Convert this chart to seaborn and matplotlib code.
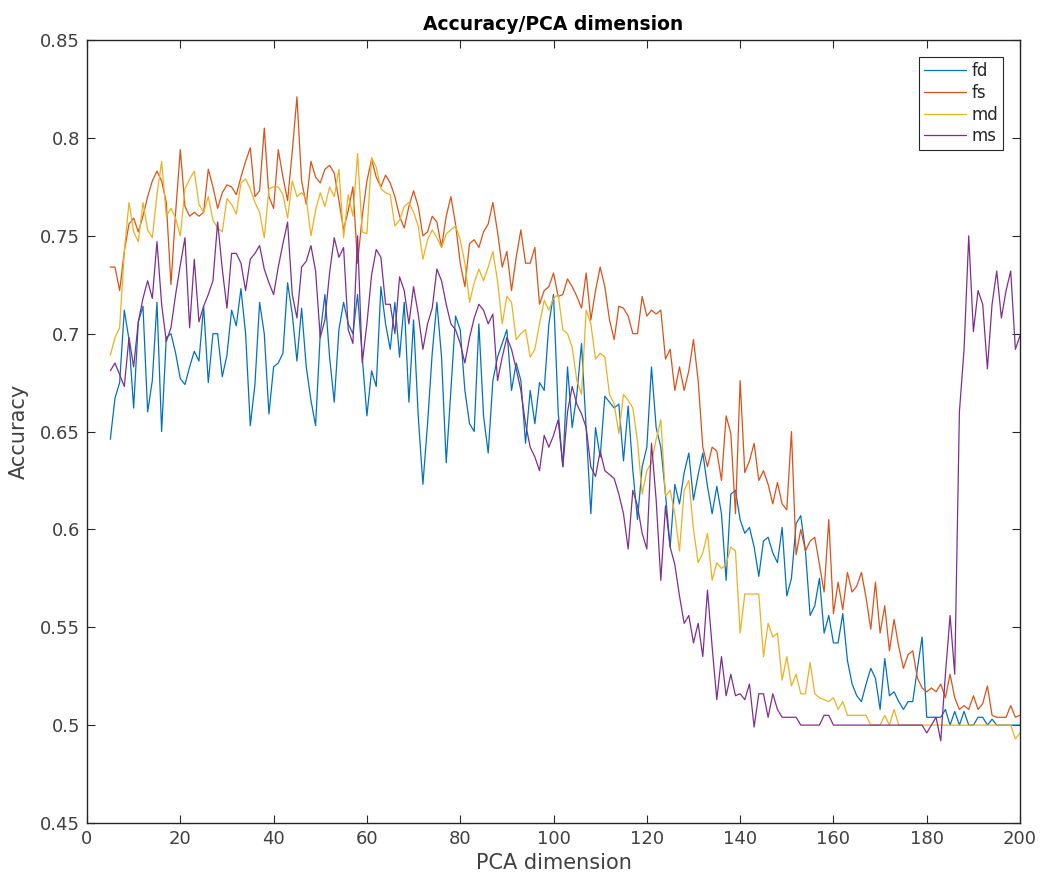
import numpy as np
import pandas as pd
import seaborn as sns
import matplotlib
matplotlib.use("Agg")
import matplotlib.pyplot as plt
from matplotlib.ticker import FuncFormatter

# ---------------------------------------------------------------------------
# data (one value per PCA dimension 5..200)
# ---------------------------------------------------------------------------
pca_dim = np.arange(5, 201)

fd = [
    0.646, 0.667, 0.675, 0.712, 0.697, 0.662, 0.706, 0.714, 0.660, 0.676,
    0.716, 0.650, 0.698, 0.700, 0.690, 0.677, 0.674, 0.683, 0.691, 0.686,
    0.714, 0.675, 0.700, 0.700, 0.678, 0.689, 0.712, 0.704, 0.723, 0.700,
    0.653, 0.674, 0.716, 0.700, 0.659, 0.683, 0.685, 0.690, 0.726, 0.710,
    0.686, 0.713, 0.683, 0.666, 0.653, 0.700, 0.720, 0.688, 0.665, 0.702,
    0.716, 0.705, 0.700, 0.720, 0.688, 0.658, 0.681, 0.673, 0.724, 0.705,
    0.692, 0.716, 0.688, 0.716, 0.665, 0.707, 0.658, 0.623, 0.654, 0.690,
    0.716, 0.688, 0.634, 0.671, 0.709, 0.702, 0.671, 0.654, 0.650, 0.705,
    0.658, 0.639, 0.676, 0.688, 0.695, 0.702, 0.671, 0.685, 0.676, 0.644,
    0.671, 0.654, 0.675, 0.671, 0.705, 0.720, 0.660, 0.632, 0.683, 0.652,
    0.669, 0.695, 0.652, 0.608, 0.652, 0.637, 0.668, 0.665, 0.662, 0.664,
    0.635, 0.663, 0.630, 0.605, 0.632, 0.642, 0.683, 0.652, 0.642, 0.618,
    0.591, 0.623, 0.613, 0.629, 0.639, 0.615, 0.628, 0.639, 0.622, 0.608,
    0.622, 0.608, 0.574, 0.618, 0.620, 0.605, 0.598, 0.601, 0.591, 0.576,
    0.594, 0.596, 0.588, 0.583, 0.601, 0.566, 0.575, 0.603, 0.607, 0.589,
    0.556, 0.561, 0.575, 0.547, 0.556, 0.542, 0.542, 0.557, 0.533, 0.521,
    0.515, 0.512, 0.521, 0.529, 0.524, 0.508, 0.534, 0.515, 0.517, 0.512,
    0.508, 0.512, 0.512, 0.529, 0.545, 0.504, 0.504, 0.504, 0.504, 0.508,
    0.500, 0.507, 0.500, 0.507, 0.500, 0.500, 0.504, 0.504, 0.500, 0.503,
    0.500, 0.500, 0.500, 0.500, 0.500, 0.500,
]

fs = [
    0.734, 0.734, 0.722, 0.742, 0.756, 0.759, 0.752, 0.760, 0.770, 0.778,
    0.783, 0.778, 0.767, 0.725, 0.762, 0.794, 0.765, 0.760, 0.762, 0.760,
    0.762, 0.784, 0.775, 0.764, 0.772, 0.776, 0.775, 0.771, 0.780, 0.788,
    0.795, 0.770, 0.773, 0.805, 0.770, 0.764, 0.794, 0.780, 0.768, 0.793,
    0.821, 0.778, 0.766, 0.788, 0.780, 0.777, 0.784, 0.786, 0.782, 0.768,
    0.753, 0.763, 0.775, 0.736, 0.760, 0.778, 0.789, 0.780, 0.775, 0.781,
    0.777, 0.770, 0.760, 0.754, 0.765, 0.773, 0.765, 0.750, 0.752, 0.760,
    0.757, 0.744, 0.760, 0.770, 0.756, 0.736, 0.724, 0.746, 0.748, 0.744,
    0.752, 0.756, 0.767, 0.752, 0.734, 0.742, 0.722, 0.739, 0.753, 0.736,
    0.736, 0.744, 0.715, 0.722, 0.724, 0.731, 0.719, 0.720, 0.728, 0.724,
    0.719, 0.713, 0.731, 0.707, 0.722, 0.734, 0.724, 0.707, 0.697, 0.714,
    0.713, 0.709, 0.700, 0.700, 0.719, 0.709, 0.712, 0.710, 0.712, 0.687,
    0.692, 0.671, 0.683, 0.671, 0.681, 0.697, 0.676, 0.642, 0.632, 0.642,
    0.640, 0.625, 0.658, 0.649, 0.608, 0.676, 0.629, 0.635, 0.644, 0.625,
    0.630, 0.623, 0.613, 0.624, 0.613, 0.610, 0.650, 0.587, 0.600, 0.589,
    0.594, 0.596, 0.582, 0.568, 0.605, 0.557, 0.573, 0.559, 0.578, 0.568,
    0.571, 0.578, 0.565, 0.549, 0.573, 0.547, 0.561, 0.538, 0.554, 0.540,
    0.529, 0.536, 0.538, 0.524, 0.519, 0.517, 0.519, 0.517, 0.521, 0.514,
    0.526, 0.514, 0.508, 0.510, 0.508, 0.515, 0.508, 0.511, 0.520, 0.505,
    0.504, 0.504, 0.504, 0.510, 0.504, 0.505,
]

md = [
    0.689, 0.698, 0.703, 0.742, 0.767, 0.752, 0.747, 0.767, 0.753, 0.749,
    0.771, 0.788, 0.760, 0.764, 0.759, 0.750, 0.774, 0.779, 0.783, 0.766,
    0.762, 0.770, 0.758, 0.754, 0.752, 0.769, 0.766, 0.761, 0.777, 0.779,
    0.774, 0.767, 0.762, 0.749, 0.774, 0.775, 0.775, 0.771, 0.759, 0.778,
    0.770, 0.772, 0.769, 0.750, 0.763, 0.772, 0.765, 0.775, 0.770, 0.784,
    0.749, 0.771, 0.760, 0.792, 0.752, 0.751, 0.790, 0.785, 0.774, 0.772,
    0.771, 0.755, 0.758, 0.765, 0.767, 0.762, 0.755, 0.738, 0.748, 0.753,
    0.749, 0.744, 0.751, 0.753, 0.755, 0.748, 0.736, 0.716, 0.726, 0.733,
    0.727, 0.734, 0.742, 0.727, 0.705, 0.719, 0.716, 0.697, 0.700, 0.702,
    0.688, 0.692, 0.705, 0.717, 0.712, 0.718, 0.720, 0.702, 0.700, 0.693,
    0.676, 0.669, 0.712, 0.705, 0.687, 0.690, 0.688, 0.669, 0.664, 0.649,
    0.669, 0.666, 0.662, 0.645, 0.618, 0.630, 0.634, 0.646, 0.656, 0.617,
    0.620, 0.608, 0.589, 0.620, 0.625, 0.600, 0.583, 0.588, 0.598, 0.574,
    0.583, 0.580, 0.582, 0.591, 0.589, 0.547, 0.567, 0.567, 0.567, 0.567,
    0.535, 0.552, 0.545, 0.547, 0.523, 0.535, 0.520, 0.526, 0.516, 0.516,
    0.532, 0.516, 0.514, 0.513, 0.512, 0.514, 0.508, 0.512, 0.505, 0.505,
    0.505, 0.505, 0.505, 0.500, 0.500, 0.500, 0.505, 0.500, 0.508, 0.500,
    0.500, 0.500, 0.500, 0.500, 0.500, 0.500, 0.500, 0.500, 0.500, 0.500,
    0.500, 0.500, 0.500, 0.500, 0.500, 0.500, 0.500, 0.500, 0.500, 0.500,
    0.500, 0.500, 0.500, 0.500, 0.493, 0.496,
]

ms = [
    0.681, 0.685, 0.679, 0.673, 0.698, 0.683, 0.706, 0.718, 0.727, 0.718,
    0.747, 0.715, 0.696, 0.703, 0.720, 0.735, 0.749, 0.703, 0.738, 0.706,
    0.714, 0.720, 0.727, 0.757, 0.733, 0.713, 0.741, 0.741, 0.736, 0.722,
    0.738, 0.741, 0.745, 0.733, 0.726, 0.720, 0.734, 0.746, 0.757, 0.720,
    0.708, 0.734, 0.737, 0.745, 0.732, 0.698, 0.707, 0.731, 0.749, 0.739,
    0.744, 0.702, 0.695, 0.750, 0.685, 0.705, 0.730, 0.743, 0.739, 0.715,
    0.715, 0.700, 0.729, 0.722, 0.705, 0.724, 0.710, 0.692, 0.705, 0.713,
    0.733, 0.727, 0.715, 0.705, 0.702, 0.695, 0.685, 0.698, 0.708, 0.715,
    0.712, 0.705, 0.710, 0.676, 0.688, 0.698, 0.692, 0.682, 0.671, 0.654,
    0.642, 0.637, 0.630, 0.648, 0.642, 0.648, 0.656, 0.632, 0.660, 0.673,
    0.664, 0.659, 0.652, 0.632, 0.627, 0.640, 0.630, 0.628, 0.626, 0.618,
    0.608, 0.590, 0.620, 0.612, 0.598, 0.590, 0.644, 0.615, 0.574, 0.612,
    0.591, 0.582, 0.566, 0.552, 0.556, 0.542, 0.552, 0.535, 0.569, 0.540,
    0.513, 0.535, 0.515, 0.526, 0.515, 0.516, 0.513, 0.521, 0.499, 0.516,
    0.516, 0.504, 0.516, 0.508, 0.504, 0.504, 0.504, 0.504, 0.500, 0.500,
    0.500, 0.500, 0.500, 0.505, 0.505, 0.500, 0.500, 0.500, 0.500, 0.500,
    0.500, 0.500, 0.500, 0.500, 0.500, 0.500, 0.500, 0.500, 0.500, 0.500,
    0.500, 0.500, 0.500, 0.500, 0.500, 0.496, 0.500, 0.504, 0.492, 0.526,
    0.556, 0.526, 0.660, 0.692, 0.750, 0.701, 0.722, 0.715, 0.682, 0.715,
    0.732, 0.708, 0.722, 0.732, 0.692, 0.699,
]

series_names = ["fd", "fs", "md", "ms"]
series_values = [fd, fs, md, ms]
# MATLAB default colour order
series_colors = ["#0072BD", "#D95319", "#EDB120", "#7E2F8E"]

for name, vals in zip(series_names, series_values):
    assert len(vals) == len(pca_dim), (name, len(vals))

df = pd.concat(
    [pd.DataFrame({"dim": pca_dim, "acc": vals, "method": name})
     for name, vals in zip(series_names, series_values)],
    ignore_index=True,
)

# ---------------------------------------------------------------------------
# plot
# ---------------------------------------------------------------------------
sns.set_style("white")
plt.rcParams["font.family"] = ["DejaVu Sans"]

fig = plt.figure(figsize=(10.43, 8.8), dpi=100)
ax = fig.add_axes([0.0834, 0.0648, 0.8946, 0.8897])

sns.lineplot(
    data=df, x="dim", y="acc", hue="method",
    palette=dict(zip(series_names, series_colors)),
    estimator=None, linewidth=0.9, ax=ax,
)

ax.set_xlim(0, 200)
ax.set_ylim(0.45, 0.85)
ax.set_xticks(np.arange(0, 201, 20))
ax.set_yticks(np.arange(0.45, 0.851, 0.05))
ax.yaxis.set_major_formatter(FuncFormatter(lambda v, _: f"{v:g}"))

axis_col = "#262626"
for sp in ax.spines.values():
    sp.set_visible(True)
    sp.set_color(axis_col)
    sp.set_linewidth(1.0)

ax.tick_params(direction="in", length=6, width=0.8, color=axis_col,
               labelcolor="#404040", labelsize=13, top=True, right=True,
               bottom=True, left=True, pad=5)

ax.set_xlabel("PCA dimension", fontsize=15, color="#404040", labelpad=4)
ax.set_ylabel("Accuracy", fontsize=15, color="#404040", labelpad=8)
ax.set_title("Accuracy/PCA dimension", fontsize=13.5, fontweight="bold",
             color="black", pad=7)

handles, labels = ax.get_legend_handles_labels()
leg = ax.legend(handles, labels, loc="upper right",
                bbox_to_anchor=(0.982, 0.978), fontsize=12,
                frameon=True, fancybox=False, framealpha=1,
                edgecolor=axis_col, handlelength=2.5, handletextpad=0.35,
                borderpad=0.3, labelspacing=0.22, borderaxespad=0)
leg.get_frame().set_linewidth(0.8)

fig.savefig("out.png", dpi=100)
